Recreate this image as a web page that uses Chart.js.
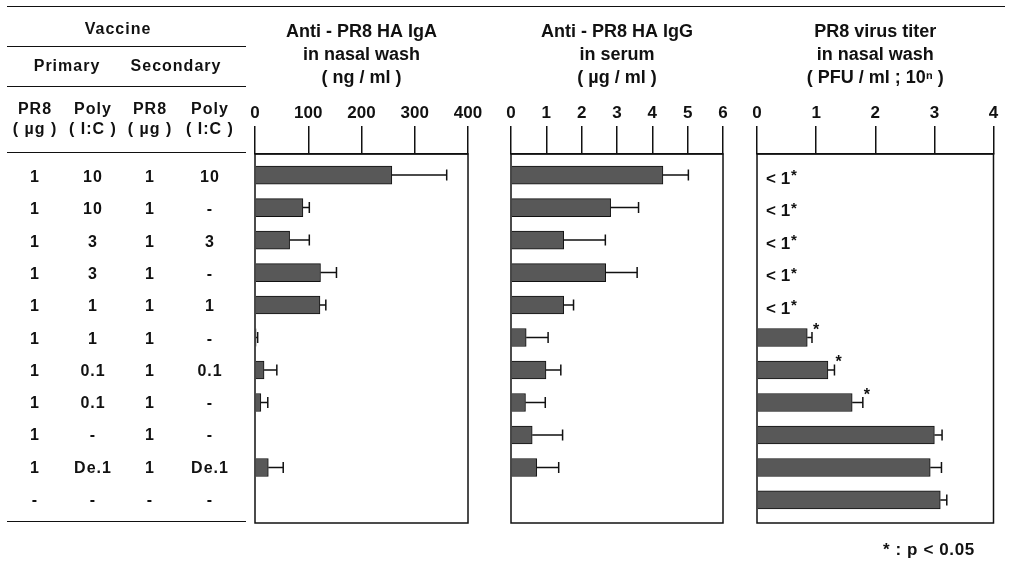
<!DOCTYPE html>
<html>
<head>
<meta charset="utf-8">
<script src="https://cdn.jsdelivr.net/npm/chart.js@4.4.1/dist/chart.umd.min.js"></script>
<style>
  body { margin: 0; background: #fff; font-family: "Liberation Sans", Arial, sans-serif; color: #111; }
  #wrap { position: relative; width: 1012px; height: 564px; overflow: hidden; }
  canvas.panel { position: absolute; top: 0; }
  .t { position: absolute; font-weight: bold; font-size: 16px; letter-spacing: 1px; transform: translate(-50%, -50%); white-space: nowrap; }
  .hl { position: absolute; height: 0; border-top: 1.5px solid #111; }
</style>
</head>
<body>
<div id="wrap">
  <canvas id="chart1" class="panel"></canvas>
  <canvas id="chart2" class="panel"></canvas>
  <canvas id="chart3" class="panel"></canvas>
</div>
<script>
// vaccine table
var primaryPR8   = ['1', '1', '1', '1', '1', '1', '1', '1', '1', '1', '-'];
var primaryPoly  = ['10', '10', '3', '3', '1', '1', '0.1', '0.1', '-', 'De.1', '-'];
var secondaryPR8 = ['1', '1', '1', '1', '1', '1', '1', '1', '1', '1', '-'];
var secondaryPoly = ['10', '-', '3', '-', '1', '-', '0.1', '-', '-', 'De.1', '-'];

// Anti-PR8 HA IgA in nasal wash (ng/ml)
var igaMean = [257, 90, 65, 123, 122, 2, 17, 11, null, 25, null];
var igaErr  = [103, 12, 37, 30, 11, 3, 24, 13, null, 28, null];

// Anti-PR8 HA IgG in serum (ug/ml)
var iggMean = [4.30, 2.82, 1.49, 2.68, 1.49, 0.43, 0.99, 0.41, 0.60, 0.73, null];
var iggErr  = [0.72, 0.79, 1.18, 0.89, 0.28, 0.62, 0.42, 0.56, 0.86, 0.62, null];

// PR8 virus titer in nasal wash (PFU/ml; 10^n)
var titerMean = [null, null, null, null, null, 0.85, 1.20, 1.61, 3.00, 2.93, 3.10];
var titerErr  = [null, null, null, null, null, 0.08, 0.11, 0.18, 0.13, 0.19, 0.11];
var titerNote = ['< 1', '< 1', '< 1', '< 1', '< 1', '', '', '', '', '', ''];
var titerStar = [true, true, true, true, true, true, true, true, false, false, false];

var ink = '#111';
var barFill = '#585858';
var fontFam = '"Liberation Sans", Arial, sans-serif';

// ---- table (html text) ----
var wrap = document.getElementById('wrap');
function addText(txt, x, y, size) {
  var d = document.createElement('div');
  d.className = 't';
  d.textContent = txt;
  d.style.left = x + 'px';
  d.style.top = y + 'px';
  if (size) d.style.fontSize = size + 'px';
  wrap.appendChild(d);
}
function addLine(x1, x2, y) {
  var d = document.createElement('div');
  d.className = 'hl';
  d.style.left = x1 + 'px';
  d.style.width = (x2 - x1) + 'px';
  d.style.top = y + 'px';
  wrap.appendChild(d);
}
addLine(7, 1005, 6);
addLine(7, 246, 46);
addLine(7, 246, 86);
addLine(7, 246, 152);
addLine(7, 246, 521);
addText('Vaccine', 118, 29);
addText('Primary', 67, 66);
addText('Secondary', 176, 66);
var colX = [35, 93, 150, 210];
var heads = [['PR8', '( \u00b5g )'], ['Poly', '( I:C )'], ['PR8', '( \u00b5g )'], ['Poly', '( I:C )']];
for (var c = 0; c < 4; c++) {
  addText(heads[c][0], colX[c], 109);
  addText(heads[c][1], colX[c], 129);
}
var cols = [primaryPR8, primaryPoly, secondaryPR8, secondaryPoly];
for (var r = 0; r < primaryPR8.length; r++) {
  for (var c = 0; c < 4; c++) {
    addText(cols[c][r], colX[c], 177 + 32.3 * r);
  }
}
var foot = document.createElement('div');
foot.className = 't';
foot.style.transform = 'none';
foot.style.left = '883px';
foot.style.top = '540px';
foot.style.fontSize = '17px';
foot.style.letterSpacing = '0.6px';
foot.textContent = '* : p < 0.05';
wrap.appendChild(foot);

// ---- plugins ----
var boxPlugin = {
  id: 'box',
  afterDraw: function(chart) {
    var a = chart.chartArea, ctx = chart.ctx;
    ctx.save();
    ctx.strokeStyle = ink;
    ctx.lineWidth = 1.5;
    ctx.strokeRect(a.left, a.top, a.right - a.left, a.bottom - a.top);
    ctx.restore();
  }
};

var errPlugin = {
  id: 'errbars',
  afterDatasetsDraw: function(chart, args, opts) {
    var xs = chart.scales.x, ys = chart.scales.y, ctx = chart.ctx;
    var mean = opts.mean, err = opts.err;
    ctx.save();
    ctx.strokeStyle = ink;
    ctx.fillStyle = ink;
    ctx.lineWidth = 1.5;
    for (var i = 0; i < mean.length; i++) {
      var y = ys.getPixelForValue(i);
      if (mean[i] != null && err[i] != null) {
        var x0 = xs.getPixelForValue(mean[i]);
        var x1 = xs.getPixelForValue(mean[i] + err[i]);
        ctx.beginPath();
        ctx.moveTo(x0, y);
        ctx.lineTo(x1, y);
        ctx.moveTo(x1, y - 5.5);
        ctx.lineTo(x1, y + 5.5);
        ctx.stroke();
        if (opts.star && opts.star[i]) {
          ctx.font = 'bold 16px ' + fontFam;
          ctx.textAlign = 'left';
          ctx.textBaseline = 'middle';
          ctx.fillText('*', x1 + 1, y - 7);
        }
      } else if (opts.note && opts.note[i]) {
        ctx.font = 'bold 17px ' + fontFam;
        ctx.textAlign = 'left';
        ctx.textBaseline = 'middle';
        var x = xs.getPixelForValue(0) + 9;
        ctx.fillText(opts.note[i], x, y + 4);
        var w = ctx.measureText(opts.note[i]).width;
        if (opts.star[i]) {
          ctx.font = 'bold 15px ' + fontFam;
          ctx.fillText('*', x + w + 1, y + 1);
        }
      }
    }
    ctx.restore();
  }
};

function makePanel(id, left, width, padL, padR, titleLines, xMax, step, mean, err, extra) {
  var cv = document.getElementById(id);
  cv.style.left = left + 'px';
  cv.style.width = width + 'px';
  cv.style.height = '564px';
  cv.width = width;
  cv.height = 564;
  var pts = [];
  for (var i = 0; i < mean.length; i++) {
    if (mean[i] != null) pts.push({ x: mean[i], y: i });
  }
  var errOpts = { mean: mean, err: err };
  if (extra) { errOpts.note = extra.note; errOpts.star = extra.star; }
  return new Chart(cv.getContext('2d'), {
    type: 'bar',
    data: {
      datasets: [{
        data: pts,
        backgroundColor: barFill,
        borderColor: ink,
        borderWidth: 1,
        barThickness: 18
      }]
    },
    options: {
      indexAxis: 'y',
      responsive: false,
      animation: false,
      layout: { padding: { left: padL, right: padR, top: 0, bottom: 41 } },
      scales: {
        x: {
          position: 'top',
          min: 0,
          max: xMax,
          ticks: { stepSize: step, color: ink, padding: 2, font: { size: 17, weight: 'bold', family: fontFam } },
          grid: { drawOnChartArea: false, drawTicks: true, tickLength: 28, color: ink, lineWidth: 1.5 },
          border: { display: true, color: ink, width: 1.5 },
          afterFit: function(s) { s.height = 49; }
        },
        y: {
          type: 'linear',
          display: false,
          offset: false,
          reverse: true,
          min: -0.65,
          max: 10.71
        }
      },
      plugins: {
        legend: { display: false },
        tooltip: { enabled: false },
        title: {
          display: true,
          fullSize: false,
          text: titleLines,
          color: ink,
          font: { size: 18, weight: 'bold', family: fontFam, lineHeight: '23px' },
          padding: { top: 21, bottom: 15 }
        },
        errbars: errOpts
      }
    },
    plugins: [errPlugin, boxPlugin]
  });
}

makePanel('chart1', 225, 273, 30, 30, ['Anti - PR8 HA IgA', 'in nasal wash', '( ng / ml )'], 400, 100, igaMean, igaErr);
makePanel('chart2', 481, 272, 30, 30, ['Anti - PR8 HA IgG', 'in serum', '( \u00b5g / ml )'], 6, 1, iggMean, iggErr);
makePanel('chart3', 727, 285, 30, 18.5, ['PR8 virus titer', 'in nasal wash', '( PFU / ml ; 10\u207f )'], 4, 1, titerMean, titerErr,
  { note: titerNote, star: titerStar });
</script>
</body>
</html>
